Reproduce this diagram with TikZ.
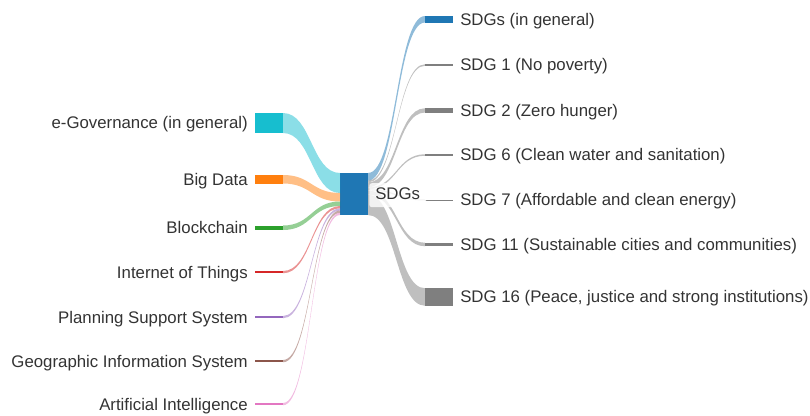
\documentclass[tikz,border=0pt]{standalone}
\usepackage{fontspec}
\setmainfont{Liberation Sans}
\usepackage{tikz}
\usetikzlibrary{positioning}

\definecolor{egovcol}{HTML}{17BECF}
\definecolor{bigdatacol}{HTML}{FF7F0E}
\definecolor{blockcol}{HTML}{2CA02C}
\definecolor{iotcol}{HTML}{D62728}
\definecolor{psscol}{HTML}{9467BD}
\definecolor{giscol}{HTML}{8C564B}
\definecolor{aicol}{HTML}{E377C2}
\definecolor{sdgblue}{HTML}{1F77B4}
\definecolor{sdggray}{HTML}{7F7F7F}
\definecolor{labelgray}{HTML}{333333}

\begin{document}
\begin{tikzpicture}[x=0.75pt,y=-0.75pt,
    flowbar/.style={rectangle,inner sep=0pt,outer sep=0pt,
      minimum width=21pt,anchor=north west},
    band/.style={fill opacity=0.5},
    lbl/.style={inner sep=0pt,text height=0.716em,text depth=0pt,
      text=labelgray,yshift=-0.9pt,font=\fontsize{12.6pt}{15pt}\selectfont}]
  \useasboundingbox (0,0) rectangle (810,415);

  % sources
  \node[flowbar,fill=egovcol,minimum height=15pt] (egov) at (255,113) {};
  \node[flowbar,fill=bigdatacol,minimum height=6.375pt] (bigdata) at (255,175) {};
  \node[flowbar,fill=blockcol,minimum height=3.375pt] (block) at (255,225.5) {};
  \node[flowbar,fill=iotcol,minimum height=1.7pt] (iot) at (255,271) {};
  \node[flowbar,fill=psscol,minimum height=1.7pt] (pss) at (255,316) {};
  \node[flowbar,fill=giscol,minimum height=1.7pt] (gis) at (255,360) {};
  \node[flowbar,fill=aicol,minimum height=1.7pt] (ai) at (255,403) {};

  % middle
  \node[flowbar,fill=sdgblue,minimum height=31.5pt] (sdgs) at (340,173) {};

  % targets
  \node[flowbar,fill=sdgblue,minimum height=4.875pt] (gen) at (425,16) {};
  \node[flowbar,fill=sdggray,minimum height=1.125pt] (sdg1) at (425,64.25) {};
  \node[flowbar,fill=sdggray,minimum height=3.2pt] (sdg2) at (425,108.25) {};
  \node[flowbar,fill=sdggray,minimum height=1.125pt] (sdg6) at (425,154.25) {};
  \node[flowbar,fill=sdggray,minimum height=0.75pt] (sdg7) at (425,199.5) {};
  \node[flowbar,fill=sdggray,minimum height=2.625pt] (sdg11) at (425,242.75) {};
  \node[flowbar,fill=sdggray,minimum height=13.125pt] (sdg16) at (425,288.25) {};

  % stacking on the middle bar
  \coordinate (w0) at (340,173);
  \coordinate (w1) at (340,193);
  \coordinate (w2) at (340,201.5);
  \coordinate (w3) at (340,206);
  \coordinate (w4) at (340,208.25);
  \coordinate (w5) at (340,210.5);
  \coordinate (w6) at (340,212.75);
  \coordinate (w7) at (340,215);
  \coordinate (e0) at (368,173);
  \coordinate (e1) at (368,180.6);
  \coordinate (e2) at (368,182.4);
  \coordinate (e3) at (368,187.4);
  \coordinate (e4) at (368,189.2);
  \coordinate (e5) at (368,190.4);
  \coordinate (e6) at (368,194.5);
  \coordinate (e7) at (368,215);
  \coordinate (lm) at (311.5,0);
  \coordinate (rm) at (396.5,0);

  % left bands
  \fill[band,egovcol]
    (egov.north east)
    .. controls (lm |- egov.north east) and (lm |- w0) .. (w0)
    -- (w1)
    .. controls (lm |- w1) and (lm |- egov.south east) .. (egov.south east)
    -- cycle;
  \fill[band,bigdatacol]
    (bigdata.north east)
    .. controls (lm |- bigdata.north east) and (lm |- w1) .. (w1)
    -- (w2)
    .. controls (lm |- w2) and (lm |- bigdata.south east) .. (bigdata.south east)
    -- cycle;
  \fill[band,blockcol]
    (block.north east)
    .. controls (lm |- block.north east) and (lm |- w2) .. (w2)
    -- (w3)
    .. controls (lm |- w3) and (lm |- block.south east) .. (block.south east)
    -- cycle;
  \fill[band,iotcol]
    (iot.north east)
    .. controls (lm |- iot.north east) and (lm |- w3) .. (w3)
    -- (w4)
    .. controls (lm |- w4) and (lm |- iot.south east) .. (iot.south east)
    -- cycle;
  \fill[band,psscol]
    (pss.north east)
    .. controls (lm |- pss.north east) and (lm |- w4) .. (w4)
    -- (w5)
    .. controls (lm |- w5) and (lm |- pss.south east) .. (pss.south east)
    -- cycle;
  \fill[band,giscol]
    (gis.north east)
    .. controls (lm |- gis.north east) and (lm |- w5) .. (w5)
    -- (w6)
    .. controls (lm |- w6) and (lm |- gis.south east) .. (gis.south east)
    -- cycle;
  \fill[band,aicol]
    (ai.north east)
    .. controls (lm |- ai.north east) and (lm |- w6) .. (w6)
    -- (w7)
    .. controls (lm |- w7) and (lm |- ai.south east) .. (ai.south east)
    -- cycle;

  % right bands
  \fill[band,sdgblue]
    (e0)
    .. controls (rm |- e0) and (rm |- gen.north west) .. (gen.north west)
    -- (gen.south west)
    .. controls (rm |- gen.south west) and (rm |- e1) .. (e1)
    -- cycle;
  \fill[band,sdggray]
    (e1)
    .. controls (rm |- e1) and (rm |- sdg1.north west) .. (sdg1.north west)
    -- (sdg1.south west)
    .. controls (rm |- sdg1.south west) and (rm |- e2) .. (e2)
    -- cycle;
  \fill[band,sdggray]
    (e2)
    .. controls (rm |- e2) and (rm |- sdg2.north west) .. (sdg2.north west)
    -- (sdg2.south west)
    .. controls (rm |- sdg2.south west) and (rm |- e3) .. (e3)
    -- cycle;
  \fill[band,sdggray]
    (e3)
    .. controls (rm |- e3) and (rm |- sdg6.north west) .. (sdg6.north west)
    -- (sdg6.south west)
    .. controls (rm |- sdg6.south west) and (rm |- e4) .. (e4)
    -- cycle;
  \fill[band,sdggray]
    (e4)
    .. controls (rm |- e4) and (rm |- sdg7.north west) .. (sdg7.north west)
    -- (sdg7.south west)
    .. controls (rm |- sdg7.south west) and (rm |- e5) .. (e5)
    -- cycle;
  \fill[band,sdggray]
    (e5)
    .. controls (rm |- e5) and (rm |- sdg11.north west) .. (sdg11.north west)
    -- (sdg11.south west)
    .. controls (rm |- sdg11.south west) and (rm |- e6) .. (e6)
    -- cycle;
  \fill[band,sdggray]
    (e6)
    .. controls (rm |- e6) and (rm |- sdg16.north west) .. (sdg16.north west)
    -- (sdg16.south west)
    .. controls (rm |- sdg16.south west) and (rm |- e7) .. (e7)
    -- cycle;

  % labels
  \node[lbl,left=5.25pt of egov] (egovlbl) {e-Governance (in general)};
  \node[lbl,left=5.25pt of bigdata] (bigdatalbl) {Big Data};
  \node[lbl,left=5.25pt of block] (blocklbl) {Blockchain};
  \node[lbl,left=5.25pt of iot] (iotlbl) {Internet of Things};
  \node[lbl,left=5.25pt of pss] (psslbl) {Planning Support System};
  \node[lbl,left=5.25pt of gis] (gislbl) {Geographic Information System};
  \node[lbl,left=5.25pt of ai] (ailbl) {Artificial Intelligence};

  \node[lbl,right=0.75pt of sdgs,inner xsep=4.5pt,minimum height=18pt,
    fill=white,fill opacity=0.8,text opacity=1,rounded corners=2pt]
    (sdgslbl) {SDGs};

  \node[lbl,right=5.25pt of gen] (genlbl) {SDGs (in general)};
  \node[lbl,right=5.25pt of sdg1] (sdg1lbl) {SDG 1 (No poverty)};
  \node[lbl,right=5.25pt of sdg2] (sdg2lbl) {SDG 2 (Zero hunger)};
  \node[lbl,right=5.25pt of sdg6] (sdg6lbl) {SDG 6 (Clean water and sanitation)};
  \node[lbl,right=5.25pt of sdg7] (sdg7lbl) {SDG 7 (Affordable and clean energy)};
  \node[lbl,right=5.25pt of sdg11] (sdg11lbl) {SDG 11 (Sustainable cities and communities)};
  \node[lbl,right=5.25pt of sdg16] (sdg16lbl) {SDG 16 (Peace, justice and strong institutions)};
\end{tikzpicture}
\end{document}
